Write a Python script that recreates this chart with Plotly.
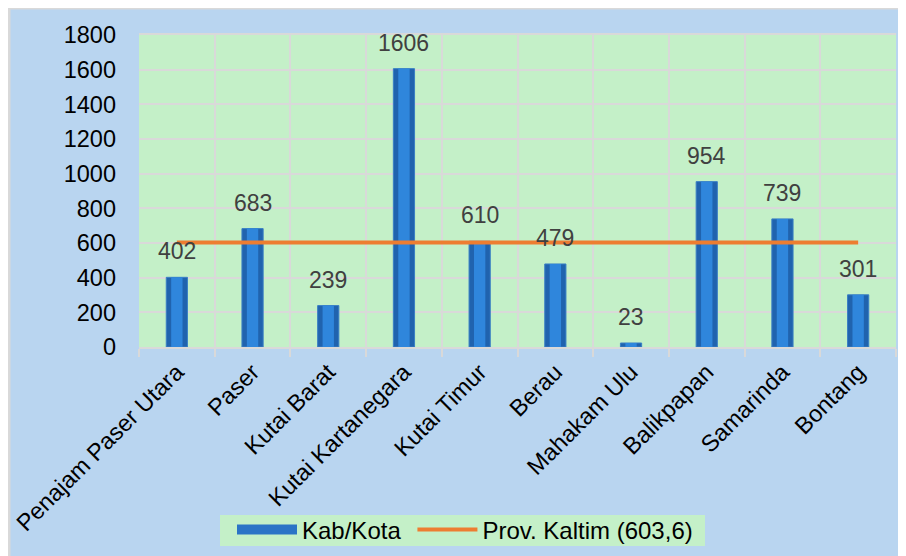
import plotly.graph_objects as go

regions = ['Penajam Paser Utara', 'Paser', 'Kutai Barat', 'Kutai Kartanegara', 'Kutai Timur',
           'Berau', 'Mahakam Ulu', 'Balikpapan', 'Samarinda', 'Bontang']
kab_kota = [402, 683, 239, 1606, 610, 479, 23, 954, 739, 301]
prov_value = 603.6
prov_line = [prov_value] * len(regions)
y_ticks = [0, 200, 400, 600, 800, 1000, 1200, 1400, 1600, 1800]

# figure pixel layout (the page adds an 8px body margin)
W, H = 906, 556
ML, MR, MT, MB = 131, 18, 27, 217
pw, ph = W - ML - MR, H - MT - MB


def px_x(p):
    return (p - ML) / pw


def px_y(p):
    return (H - MB - p) / ph


FONT = 'Arial, Liberation Sans, sans-serif'
BLUE_BG = '#b9d5f0'
GREEN_BG = '#c4f0c8'
GRID = '#d9d9d9'

fig = go.Figure()
fig.add_trace(go.Bar(x=regions, y=kab_kota, name='Kab/Kota', width=0.28, showlegend=False,
                     marker=dict(color='#2063ae', line=dict(color='#3a7fc4', width=1))))
# lighter inner face for a bevelled look
fig.add_trace(go.Bar(x=regions, y=kab_kota, width=0.15, showlegend=False, hoverinfo='skip',
                     marker=dict(color='#2f86dc', line=dict(width=0))))
# legend entry shaped like the wide bar swatch
fig.add_trace(go.Scatter(x=[None], y=[None], mode='lines', name='Kab/Kota\u00a0',
                         line=dict(color='#2a74c6', width=10)))
fig.add_trace(go.Scatter(x=regions, y=prov_line, mode='lines', name='Prov. Kaltim (603,6)',
                         line=dict(color='#ed7d31', width=4)))

for r, v in zip(regions, kab_kota):
    fig.add_annotation(x=r, y=v, text=str(v), showarrow=False, yanchor='bottom', yshift=11,
                       font=dict(family=FONT, size=23, color='#404040'))

# grey frame on the top and left edges
fig.add_shape(type='line', xref='paper', yref='paper', x0=px_x(1), x1=px_x(1), y0=px_y(H), y1=px_y(0),
              line=dict(color=GRID, width=3), layer='above')
fig.add_shape(type='line', xref='paper', yref='paper', x0=px_x(0), x1=px_x(W), y0=px_y(0), y1=px_y(0),
              line=dict(color=GRID, width=3), layer='above')
# legend background box
fig.add_shape(type='rect', xref='paper', yref='paper', x0=px_x(212), x1=px_x(697), y0=px_y(538), y1=px_y(507),
              fillcolor=GREEN_BG, line=dict(width=0), layer='below')

fig.update_layout(
    template='none',
    width=W, height=H,
    margin=dict(l=ML, r=MR, t=MT, b=MB, pad=0, autoexpand=False),
    paper_bgcolor=BLUE_BG, plot_bgcolor=GREEN_BG,
    font=dict(family=FONT, size=23, color='black'),
    barmode='overlay',
    showlegend=True,
    legend=dict(orientation='h', x=px_x(224), y=px_y(522), xanchor='left', yanchor='middle',
                bgcolor='rgba(0,0,0,0)', font=dict(size=24, color='black'),
                itemwidth=60, tracegroupgap=0),
)
fig.update_xaxes(tickangle=-45, tickson='boundaries', showgrid=True, gridcolor=GRID, gridwidth=2,
                 ticks='outside', ticklen=8, tickcolor=GRID, tickwidth=2, automargin=False,
                 showline=True, linecolor=GRID, linewidth=2, mirror=True,
                 tickfont=dict(size=23.5, color='black'))
fig.update_yaxes(range=[0, 1800], tickvals=y_ticks, showgrid=True, gridcolor=GRID, gridwidth=2,
                 zeroline=False, showline=False, ticklabelstandoff=22, automargin=False,
                 ticks='', tickfont=dict(size=23.5, color='black'))

fig.write_html('out.html')
